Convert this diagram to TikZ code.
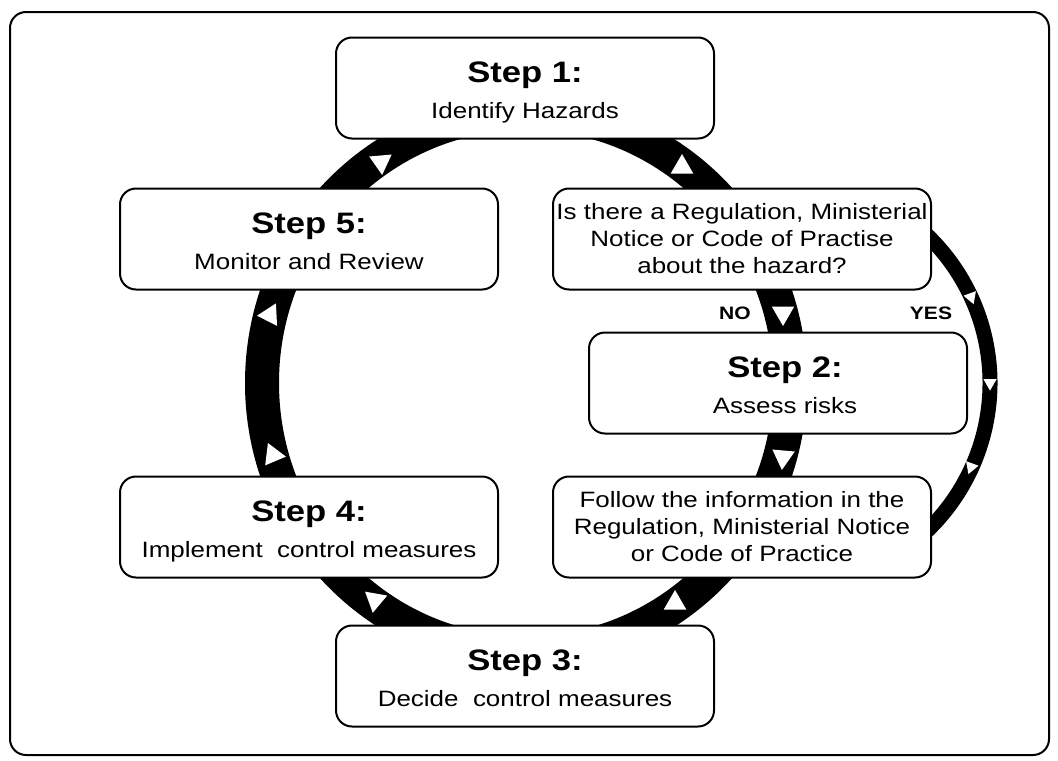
\documentclass[tikz,border=0pt]{standalone}
\usepackage{fontspec}
\setmainfont{Liberation Sans}[FakeStretch=1.17]
\newcommand{\steptitle}[1]{{\rule{0pt}{14.5pt}\fontsize{14.8}{17}\selectfont\bfseries #1}}

\begin{document}
\begin{tikzpicture}[x=0.5pt,y=-0.5pt,
  every node/.style={font=\fontsize{11.1}{13.5}\selectfont},
  stepbox/.style={draw,line width=1pt,rounded corners=8pt,fill=white,
    minimum width=189pt,minimum height=50.5pt,align=center,inner sep=0pt},
  answer/.style={font=\fontsize{9}{11}\selectfont\bfseries}]
  \useasboundingbox (0,0) rectangle (1058,760);
  \draw[line width=1pt,rounded corners=8pt] (10,12) rectangle (1049,755);
  \coordinate (hub) at (526,383);
  \coordinate (yeshub) at (785,383);
  \draw[line width=17pt] (hub) ellipse [x radius=264,y radius=270];
  \draw[line width=7.5pt] (yeshub) ++(-50:205) arc [start angle=-50,end angle=50,radius=205];
  \foreach \x/\y/\a in {381/162/-85, 682/167/90, 270/315/183, 273/455/-7,
      375/600/-100, 675/603/90, 783/313/-90, 783/457/-95} {
    \fill[white,shift={(\x,\y)},rotate=\a] (0:6.5pt) -- (120:6.5pt) -- (240:6.5pt) -- cycle;
  }
  \foreach \x/\y/\a in {971/297/-70, 990/383/-90, 971/467/-110} {
    \fill[white,shift={(\x,\y)},rotate=\a] (0:3.8pt) -- (120:3.8pt) -- (240:3.8pt) -- cycle;
  }
  \node[stepbox] (s1) at (525,88) {\steptitle{Step 1:}\\[4.5pt]Identify Hazards\rule[-2.5pt]{0pt}{0pt}};
  \node[stepbox] (s5) at (309,239) {\steptitle{Step 5:}\\[4.5pt]Monitor and Review\rule[-2.5pt]{0pt}{0pt}};
  \node[stepbox] (question) at (742,239) {Is there a Regulation, Ministerial\\Notice or Code of Practise\\about the hazard?};
  \node[stepbox] (s2) at (778,383) {\hspace*{7pt}\steptitle{Step 2:}\\[4.5pt]\hspace*{7pt}Assess risks\rule[-2.5pt]{0pt}{0pt}};
  \node[stepbox] (s4) at (309,527) {\steptitle{Step 4:}\\[4.5pt]Implement\ \ control measures\rule[-2.5pt]{0pt}{0pt}};
  \node[stepbox] (follow) at (742,527) {Follow the information in the\\Regulation, Ministerial Notice\\or Code of Practice};
  \node[stepbox] (s3) at (525,676) {\steptitle{Step 3:}\\[4.5pt]Decide\ \ control measures\rule[-2.5pt]{0pt}{0pt}};
  \node[answer] (no) at (735,313) {NO};
  \node[answer] (yes) at (931,313) {YES};
\end{tikzpicture}
\end{document}
